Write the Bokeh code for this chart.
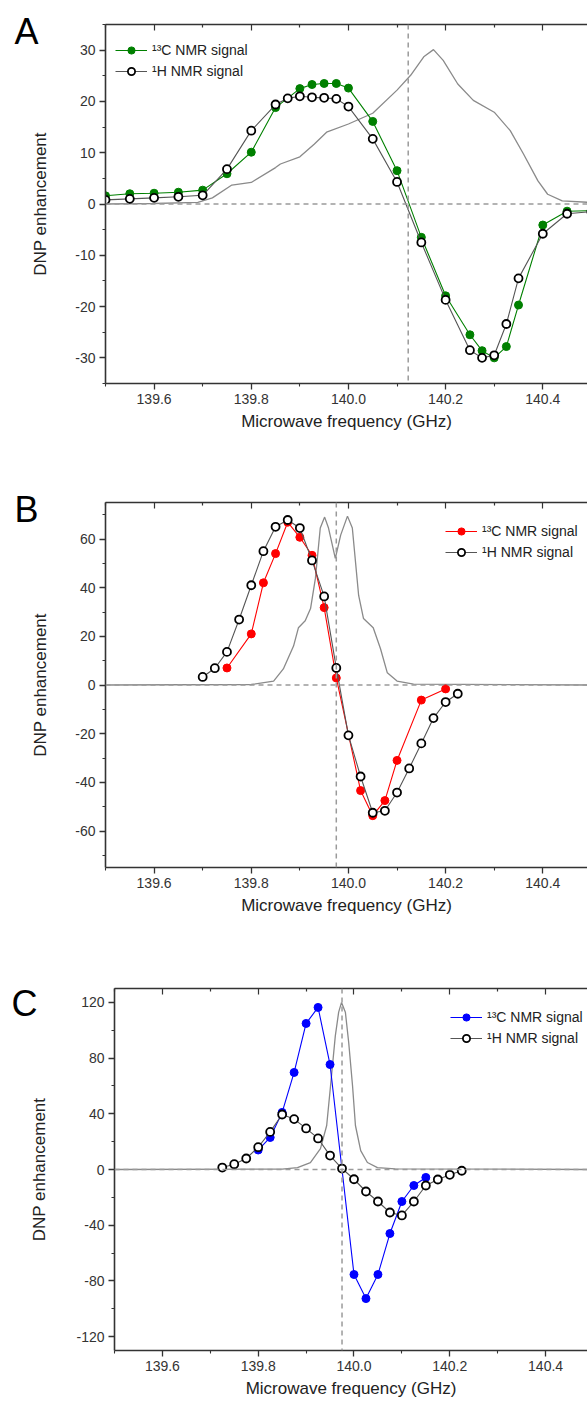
from bokeh.plotting import figure
from bokeh.models import (Range1d, FixedTicker, PrintfTickFormatter, LinearAxis, Span,
                          Legend, LegendItem)
from bokeh.embed import file_html
from bokeh.resources import INLINE

FONT = "Liberation Sans"
AXC = "#333333"

# ---------------- tick values ----------------
x_major = [139.6, 139.8, 140.0, 140.2, 140.4]
x_minor = [139.5, 139.7, 139.9, 140.1, 140.3, 140.5]
a_y_major = [-30, -20, -10, 0, 10, 20, 30]
a_y_minor = [-35, -25, -15, -5, 5, 15, 25, 35]
b_y_major = [-60, -40, -20, 0, 20, 40, 60]
b_y_minor = [-70, -50, -30, -10, 10, 30, 50, 70]
c_y_major = [-120, -80, -40, 0, 40, 80, 120]
c_y_minor = [-100, -60, -20, 20, 60, 100]

# ---------------- panel A ----------------
a_c13_freq = [139.5, 139.55, 139.6, 139.65, 139.7, 139.75, 139.8, 139.85, 139.9, 139.925, 139.95,
              139.975, 140.0, 140.05, 140.1, 140.15, 140.2, 140.25, 140.275, 140.3, 140.325, 140.35,
              140.4, 140.45, 140.5]
a_c13_enh = [1.6, 2.0, 2.1, 2.3, 2.7, 5.9, 10.1, 18.8, 22.5, 23.3, 23.5,
             23.5, 22.6, 16.1, 6.5, -6.5, -17.9, -25.5, -28.6, -30.0, -27.8, -19.7,
             -4.1, -1.4, -1.3]
a_h1_freq = [139.5, 139.55, 139.6, 139.65, 139.7, 139.75, 139.8, 139.85, 139.875, 139.9, 139.925,
             139.95, 139.975, 140.0, 140.05, 140.1, 140.15, 140.2, 140.25, 140.275, 140.3, 140.325,
             140.35, 140.4, 140.45, 140.5]
a_h1_enh = [0.8, 1.0, 1.2, 1.4, 1.7, 6.8, 14.3, 19.4, 20.6, 21.0, 20.8,
            20.7, 20.5, 19.0, 12.7, 4.3, -7.5, -18.7, -28.5, -30.0, -29.5, -23.4,
            -14.5, -5.8, -1.9, -1.5]
a_epr_freq = [139.5, 139.6, 139.69, 139.72, 139.76, 139.8, 139.85, 139.86, 139.9, 139.93, 139.955,
              140.0, 140.05, 140.1, 140.128, 140.155, 140.175, 140.195, 140.225, 140.257, 140.3,
              140.333, 140.36, 140.39, 140.41, 140.44, 140.5]
a_epr_val = [0.0, 0.1, 0.3, 1.2, 3.7, 4.2, 7.1, 7.8, 9.2, 11.7, 14.0,
             15.6, 17.7, 22.2, 25.1, 28.7, 30.1, 28.0, 23.4, 20.2, 17.9,
             14.3, 9.8, 4.5, 1.9, 0.6, 0.3]
a_center = 140.123

# ---------------- panel B ----------------
b_c13_freq = [139.75, 139.8, 139.825, 139.85, 139.875, 139.9, 139.925, 139.95, 139.975,
              140.025, 140.05, 140.075, 140.1, 140.15, 140.2]
b_c13_enh = [7.0, 21.0, 42.0, 54.0, 66.9, 60.7, 53.3, 31.8, 2.9,
             -43.4, -53.7, -47.5, -31.0, -6.2, -1.6]
b_h1_freq = [139.7, 139.725, 139.75, 139.775, 139.8, 139.825, 139.85, 139.875, 139.9, 139.925,
             139.95, 139.975, 140.0, 140.025, 140.05, 140.075, 140.1, 140.125, 140.15, 140.175,
             140.2, 140.225]
b_h1_enh = [3.3, 6.9, 13.6, 26.9, 41.0, 55.0, 65.0, 67.8, 64.5, 51.2,
            36.4, 7.0, -20.7, -37.6, -52.5, -51.7, -44.2, -34.3, -24.0, -13.6,
            -7.0, -3.6]
b_epr_freq = [139.5, 139.8, 139.846, 139.866, 139.887, 139.897, 139.911, 139.922, 139.932, 139.942,
              139.951, 139.959, 139.973, 139.984, 139.998, 140.008, 140.021, 140.031, 140.051,
              140.066, 140.08, 140.1, 140.134, 140.5]
b_epr_val = [0.0, 0.2, 1.6, 6.6, 16.0, 23.5, 26.4, 31.4, 43.8, 64.5,
             69.0, 64.5, 52.0, 61.6, 69.4, 64.5, 36.8, 27.3, 23.5,
             14.9, 5.0, 1.6, 0.4, 0.0]
b_center = 139.975

# ---------------- panel C ----------------
c_c13_freq = [139.8, 139.825, 139.85, 139.875, 139.9, 139.925, 139.95, 140.0, 140.025, 140.05,
              140.075, 140.1, 140.125, 140.15]
c_c13_enh = [14.0, 23.0, 41.0, 69.7, 104.9, 116.4, 75.4, -75.4, -92.7, -75.4,
             -46.0, -23.0, -11.5, -5.7]
c_h1_freq = [139.725, 139.75, 139.775, 139.8, 139.825, 139.85, 139.875, 139.9, 139.925, 139.95,
             139.975, 140.0, 140.025, 140.05, 140.075, 140.1, 140.125, 140.15, 140.175, 140.2,
             140.225]
c_h1_enh = [1.4, 3.8, 7.9, 16.0, 27.0, 39.5, 36.2, 29.5, 22.3, 10.0,
            0.7, -7.0, -15.8, -23.0, -30.9, -33.0, -23.0, -11.5, -7.2, -3.8,
            -0.9]
c_epr_freq = [139.5, 139.85, 139.882, 139.909, 139.93, 139.943, 139.951, 139.961, 139.968, 139.974,
              139.982, 139.989, 139.997, 140.003, 140.014, 140.028, 140.049, 140.086, 140.5]
c_epr_val = [0.0, 0.3, 1.4, 5.0, 15.0, 31.6, 60.0, 96.0, 113.0, 120.0,
             113.0, 91.0, 60.0, 31.6, 13.6, 5.0, 1.4, 0.5, 0.0]
c_center = 139.975

legend_labels = ["\u00b9\u00b3C NMR signal", "\u00b9H NMR signal"]
panel_letters = ["A", "B", "C"]


def style_axis(ax, fmt):
    ax.formatter = PrintfTickFormatter(format=fmt)
    ax.axis_line_color = AXC
    ax.axis_line_width = 1.6
    ax.major_tick_line_color = AXC
    ax.minor_tick_line_color = AXC
    ax.major_tick_line_width = 1.3
    ax.minor_tick_line_width = 1.1
    ax.major_tick_in, ax.major_tick_out = 0, 6
    ax.minor_tick_in, ax.minor_tick_out = 0, 3
    ax.major_label_text_font = FONT
    ax.major_label_text_color = AXC
    ax.major_label_text_font_size = "14px"
    ax.major_label_standoff = 4
    ax.axis_label_text_font = FONT
    ax.axis_label_text_font_size = "17px"
    ax.axis_label_text_font_style = "normal"
    ax.axis_label_text_color = "#222222"


def top_ticks(p, positions, length, show_line):
    ax = LinearAxis(ticker=FixedTicker(ticks=[], minor_ticks=positions))
    ax.axis_line_color = AXC if show_line else None
    ax.axis_line_width = 1.6
    ax.minor_tick_line_color = AXC
    ax.minor_tick_line_width = 1.2
    ax.minor_tick_in, ax.minor_tick_out = length, 0
    ax.major_tick_in, ax.major_tick_out = 0, 0
    ax.major_label_standoff = 0
    p.add_layout(ax, "above")


def letter_axis(p, letter, y_pos, standoff):
    # an extra, invisible left axis whose only tick label is the panel letter
    ax = LinearAxis(ticker=FixedTicker(ticks=[y_pos], minor_ticks=[]))
    ax.major_label_overrides = {y_pos: letter}
    ax.axis_line_color = None
    ax.major_tick_line_color = None
    ax.major_tick_in, ax.major_tick_out = 0, 0
    ax.minor_tick_in, ax.minor_tick_out = 0, 0
    ax.major_label_standoff = standoff
    ax.major_label_text_font = FONT
    ax.major_label_text_font_size = "36px"
    ax.major_label_text_color = "black"
    p.add_layout(ax, "left")


def make_panel(height, top, bottom, left, x_end, y_lim, y_major, y_minor,
               epr_f, epr_v, c_f, c_v, h_f, h_v, color, vline, letter, letter_mid,
               legend_left, legend_top, ylab_standoff, letter_standoff):
    p = figure(width=587, height=height, x_range=Range1d(139.5, x_end),
               y_range=Range1d(-y_lim, y_lim), output_backend="svg", toolbar_location=None,
               min_border_left=left, min_border_right=0, min_border_top=top,
               min_border_bottom=bottom)
    p.grid.visible = False
    p.outline_line_color = None
    p.background_fill_color = "white"
    p.border_fill_color = "white"

    p.xaxis[0].ticker = FixedTicker(ticks=x_major, minor_ticks=x_minor)
    style_axis(p.xaxis[0], "%.1f")
    p.xaxis[0].axis_label = "Microwave frequency (GHz)"
    p.xaxis[0].axis_label_standoff = 5
    p.yaxis[0].ticker = FixedTicker(ticks=y_major, minor_ticks=y_minor)
    style_axis(p.yaxis[0], "%d")
    p.yaxis[0].axis_label = "DNP enhancement"
    p.yaxis[0].axis_label_standoff = ylab_standoff

    top_ticks(p, x_major, 6, True)
    top_ticks(p, x_minor, 3, False)

    frame_h = height - top - bottom
    # letter centre (pixel row) converted to the panel's y scale
    letter_y = y_lim - (letter_mid - top) * (2 * y_lim) / frame_h
    letter_axis(p, letter, letter_y, letter_standoff)

    p.add_layout(Span(location=0, dimension="width", line_color="#9a9a9a",
                      line_dash="5 4", line_width=1.5))
    p.add_layout(Span(location=vline, dimension="height", line_color="#9a9a9a",
                      line_dash="5 4", line_width=1.5))

    p.line(epr_f, epr_v, line_color="#8a8a8a", line_width=1.3)

    cl = p.line(c_f, c_v, line_color=color, line_width=1.1)
    cs = p.scatter(c_f, c_v, marker="circle", size=8, fill_color=color, line_color=color)
    hl = p.line(h_f, h_v, line_color="#555555", line_width=1.1)
    hs = p.scatter(h_f, h_v, marker="circle", size=8, fill_color="white",
                   line_color="black", line_width=1.8)

    legend_h = 2 * 18 + 3
    legend = Legend(items=[LegendItem(label=legend_labels[0], renderers=[cl, cs]),
                           LegendItem(label=legend_labels[1], renderers=[hl, hs])],
                    location=(legend_left - left, frame_h - (legend_top - top) - legend_h),
                    border_line_color=None, background_fill_alpha=0, padding=0, margin=0,
                    spacing=3, glyph_width=32, glyph_height=18, label_height=18,
                    label_standoff=5, label_text_font=FONT, label_text_font_size="14px",
                    label_text_color="#222222")
    p.add_layout(legend)
    return p


pa = make_panel(440, 24, 57, 105, 140.492, 35, a_y_major, a_y_minor,
                a_epr_freq, a_epr_val, a_c13_freq, a_c13_enh, a_h1_freq, a_h1_enh,
                "#008000", a_center, panel_letters[0], 31, 115, 41, 22, -10)
pb = make_panel(495, 62, 68, 105, 140.492, 75, b_y_major, b_y_minor,
                b_epr_freq, b_epr_val, b_c13_freq, b_c13_enh, b_h1_freq, b_h1_enh,
                "#ff0000", b_center, panel_letters[1], 509 - 440, 445, 522 - 440, 22, -10)
pc = make_panel(473, 53, 58, 114, 140.4875, 130, c_y_major, c_y_minor,
                c_epr_freq, c_epr_val, c_c13_freq, c_c13_enh, c_h1_freq, c_h1_enh,
                "#0000ff", c_center, panel_letters[2], 1003 - 935, 450, 1008 - 935, 24, -10)

open("out.html", "w").write(file_html([pa, pb, pc], INLINE))
